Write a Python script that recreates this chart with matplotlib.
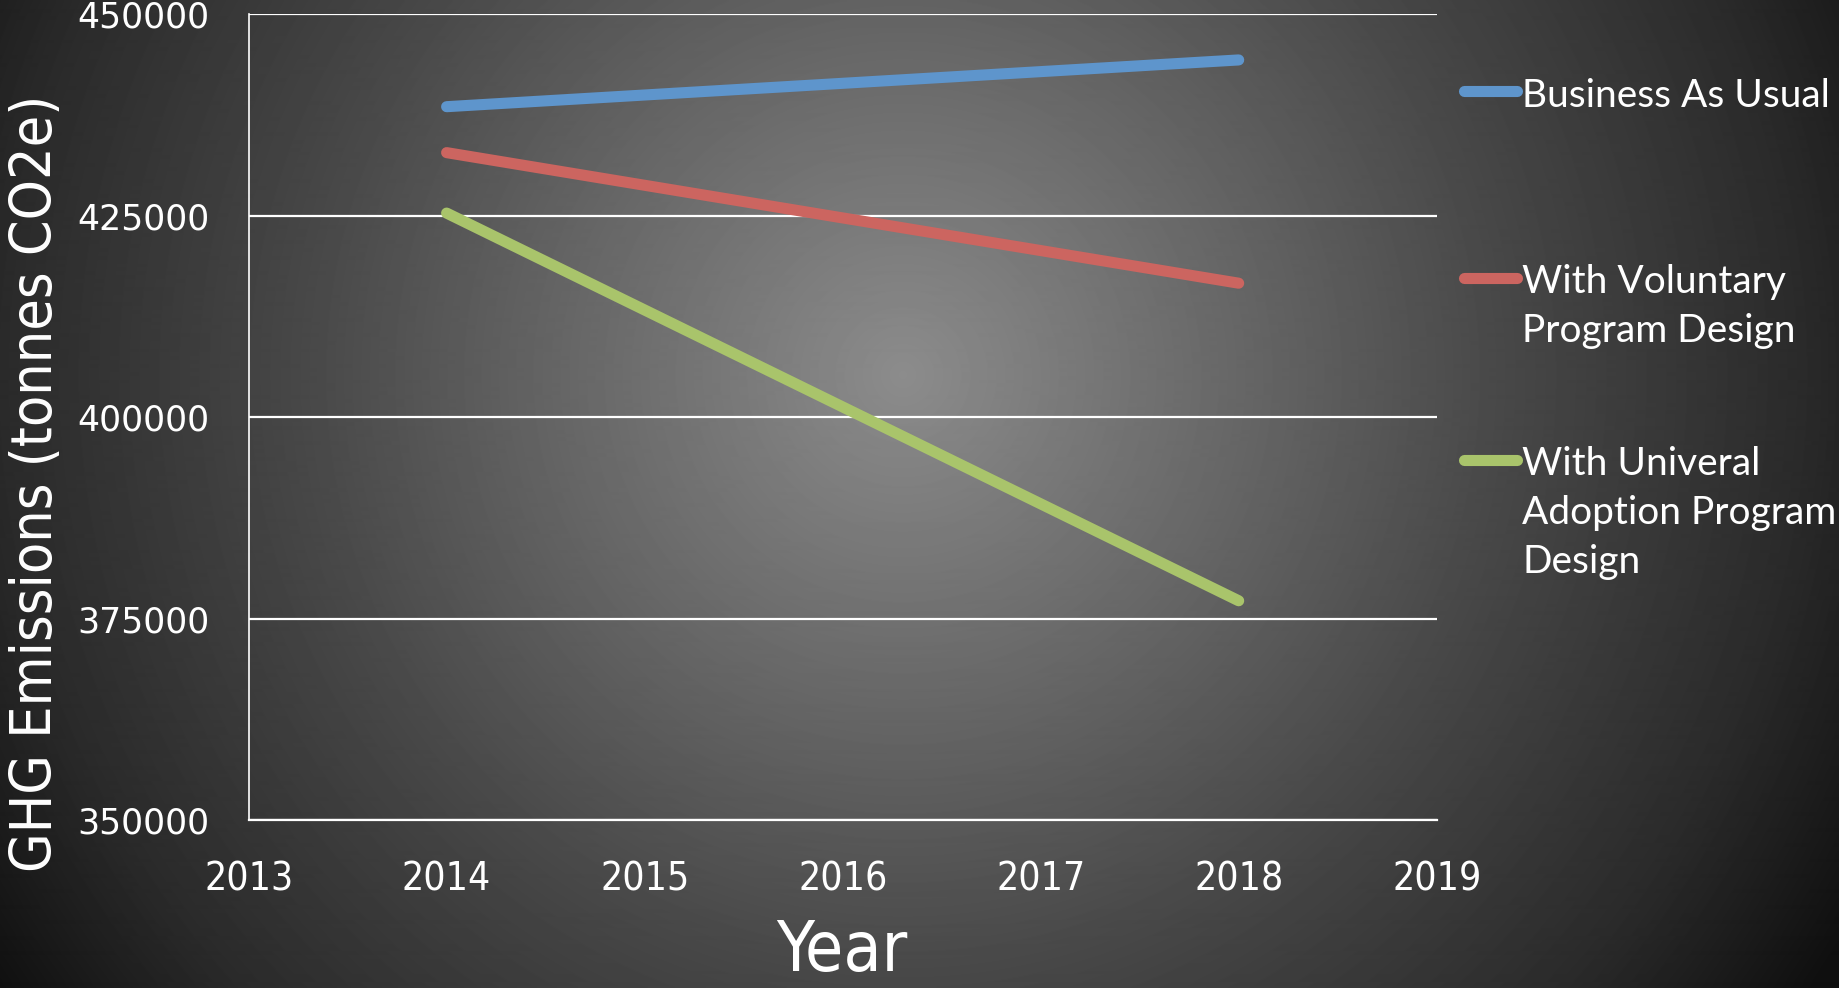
import numpy as np
import matplotlib
matplotlib.use("Agg")
import matplotlib.pyplot as plt
from matplotlib import font_manager
from matplotlib.font_manager import FontProperties
from matplotlib.lines import Line2D

# emissions scenarios, tonnes CO2e
years = [2014, 2018]
business_as_usual = [438500, 444300]
voluntary_program = [432800, 416600]
universal_program = [425300, 377200]

series_labels = ["Business As Usual",
                 "With Voluntary\nProgram Design",
                 "With Univeral\nAdoption Program\nDesign"]
series_colors = ["#5e95cc", "#cc6560", "#a9c46b"]

x_ticks = [2013, 2014, 2015, 2016, 2017, 2018, 2019]
y_ticks = [350000, 375000, 400000, 425000, 450000]


def narrow_font():
    files = [f.fname for f in font_manager.fontManager.ttflist]
    for key in ["DejaVuSansCondensed.ttf", "LiberationSansNarrow-Regular.ttf"]:
        for path in files:
            if path.endswith(key):
                return FontProperties(fname=path)
    return FontProperties(family="Roboto")


def sized(fp, size):
    fp = fp.copy()
    fp.set_size(size)
    return fp


installed = {f.name for f in font_manager.fontManager.ttflist}
legend_font = "Lato" if "Lato" in installed else "DejaVu Sans"
narrow = narrow_font()

W, H = 1839, 988
fig = plt.figure(figsize=(W / 100, H / 100), dpi=100)

# radial grey backdrop
bg = fig.add_axes([0, 0, 1, 1], zorder=-10)
yy, xx = np.mgrid[0:H, 0:W]
r = np.hypot(xx - 903, yy - 375)
shade = np.interp(r, [0, 375, 600, 903, 1100], [140, 98, 72, 42, 15]) / 255
bg.imshow(shade, cmap="gray", vmin=0, vmax=1, aspect="auto",
          extent=[0, 1, 0, 1], interpolation="bilinear")
bg.axis("off")

ax = fig.add_axes([248.6 / W, 1 - 820 / H, (1436.7 - 248.6) / W, (820 - 14) / H])
ax.set_facecolor("none")

for vals, col in zip([business_as_usual, voluntary_program, universal_program], series_colors):
    ax.plot(years, vals, color=col, lw=8, solid_capstyle="round", zorder=3)

ax.set_xlim(2013, 2019)
ax.set_ylim(350000, 450000)
ax.set_xticks(x_ticks)
ax.set_yticks(y_ticks)
ax.set_xticklabels([str(x) for x in x_ticks], fontproperties=sized(narrow, 28), color="white")
ax.set_yticklabels([str(y) for y in y_ticks], family="DejaVu Sans", fontsize=25, color="white")
ax.tick_params(axis="x", length=0, pad=29)
ax.tick_params(axis="y", length=0, pad=28)

ax.grid(axis="y", color="white", lw=1.6, zorder=1)
ax.grid(axis="x", visible=False)
for side in ["top", "right"]:
    ax.spines[side].set_visible(False)
ax.spines["left"].set_color("white")
ax.spines["left"].set_linewidth(1.2)
ax.spines["bottom"].set_color("white")
ax.spines["bottom"].set_linewidth(1.6)

fig.text(37 / W, 1 - 483 / H, "GHG Emissions (tonnes CO2e)", rotation=90,
         fontproperties=sized(narrow, 41), color="white", ha="center", va="center")
fig.text(842 / W, 1 - 971 / H, "Year", fontproperties=sized(narrow, 50),
         color="white", ha="center", va="baseline")

# legend drawn by hand so each swatch sits on the first text line
legend_y = [91.5, 278, 460]
for lab, col, y in zip(series_labels, series_colors, legend_y):
    fig.add_artist(Line2D([1464 / W, 1517 / W], [1 - y / H, 1 - y / H], color=col, lw=8,
                          solid_capstyle="round", transform=fig.transFigure))
    fig.text(1522 / W, 1 - (y - 14) / H, lab, family=legend_font, fontsize=28,
             color="white", va="top", ha="left", linespacing=1.45)

fig.savefig("out.png", dpi=100)
